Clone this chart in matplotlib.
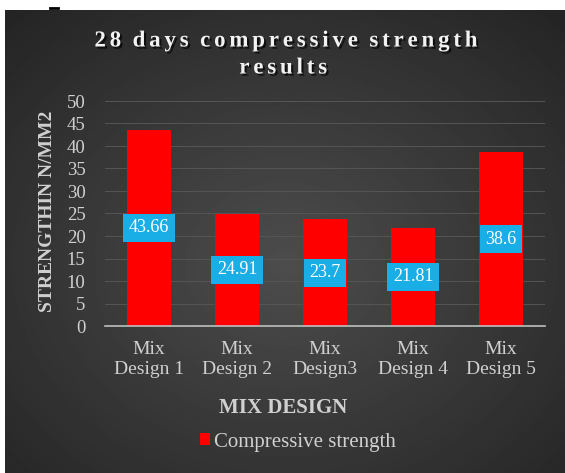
import numpy as np
import matplotlib
matplotlib.use("Agg")
import matplotlib.pyplot as plt
import matplotlib.patheffects as pe

categories = ["Mix\nDesign 1", "Mix\nDesign 2", "Mix\nDesign3", "Mix\nDesign 4", "Mix\nDesign 5"]
values = [43.66, 24.91, 23.7, 21.81, 38.6]
labels = ["43.66", "24.91", "23.7", "21.81", "38.6"]
yticks = [0, 5, 10, 15, 20, 25, 30, 35, 40, 45, 50]

W, H = 565, 473
fig = plt.figure(figsize=(W / 100, H / 100), dpi=100)
fig.patch.set_facecolor("white")

# background gradient panel
bg = fig.add_axes([5 / W, 0, 1 - 5 / W, 1 - 10 / H])
yy, xx = np.mgrid[0:1:300j, 0:1:300j]
r = np.sqrt(((xx - 0.5) / 0.7) ** 2 + ((yy - 0.45) / 0.7) ** 2)
img = np.clip(0.30 - 0.15 * r, 0.13, 0.30)
bg.imshow(img, cmap="gray", vmin=0, vmax=1, extent=[0, 1, 0, 1], aspect="auto", origin="lower")
bg.set_axis_off()

# small dark mark at top-left of the original image
fig.add_artist(plt.Line2D([50 / W, 58 / W], [1 - 8 / H, 1 - 8 / H], color="black", linewidth=2))

serif = ["Liberation Serif", "DejaVu Serif"]

ax = fig.add_axes([105 / W, 1 - 326 / H, 440 / W, 225 / H])
ax.set_facecolor("none")
x = np.arange(len(categories))
ax.bar(x, values, width=0.51, color="#ff0000", zorder=3, label="Compressive strength")
for xi, v, lab in zip(x, values, labels):
    ax.text(xi, v / 2, lab, ha="center", va="center", color="white", fontsize=13,
            fontfamily=serif, zorder=4,
            bbox=dict(boxstyle="square,pad=0.3", fc="#1aaee6", ec="none"))
ax.set_xlim(-0.5, len(categories) - 0.5)
ax.set_ylim(0, 50)
ax.set_yticks(yticks)
ax.set_yticklabels([str(t) for t in yticks], fontfamily=serif, fontsize=13.5, color="#d0d0d0")
ax.set_xticks(x)
ax.set_xticklabels(categories, fontfamily=serif, fontsize=14, color="#d0d0d0", linespacing=1.2)
ax.tick_params(axis="y", length=0, pad=14)
ax.tick_params(axis="x", length=0, pad=11)
ax.grid(axis="y", color="#555555", linewidth=0.7, zorder=0)
for s in ["top", "right", "left"]:
    ax.spines[s].set_visible(False)
ax.spines["bottom"].set_color("#bfbfbf")
ax.spines["bottom"].set_linewidth(1.2)
ax.spines["bottom"].set_zorder(5)

shadow = [pe.withSimplePatchShadow(offset=(1.5, -1.5), shadow_rgbFace="black", alpha=0.7)]
title1 = "\u2006".join("28 days compressive strength").replace("\u2006 \u2006", "\u2002")
title2 = "\u2006".join("results")
fig.text(285 / W, 1 - 41 / H, title1,
         ha="center", va="center", color="#f2f2f2", fontsize=16.5, fontweight="bold",
         fontfamily=serif, path_effects=shadow)
fig.text(283 / W, 1 - 68 / H, title2,
         ha="center", va="center", color="#f2f2f2", fontsize=16.5, fontweight="bold",
         fontfamily=serif, path_effects=shadow)

fig.text(48 / W, 1 - 211 / H, "STRENGTHIN N/MM2", rotation=90, ha="center", va="center",
         color="#d0d0d0", fontsize=14, fontweight="bold", fontfamily=serif)
fig.text(283 / W, 1 - 408 / H, "MIX DESIGN", ha="center", va="center",
         color="#d0d0d0", fontsize=15, fontweight="bold", fontfamily=serif)

leg = fig.legend(loc="center", bbox_to_anchor=(298 / W, 1 - 442 / H), frameon=False,
                 prop={"family": serif, "size": 15}, handlelength=0.5, handleheight=0.5,
                 handletextpad=0.2, labelcolor="#d0d0d0")

fig.savefig("out.png", dpi=100, facecolor=fig.get_facecolor())
